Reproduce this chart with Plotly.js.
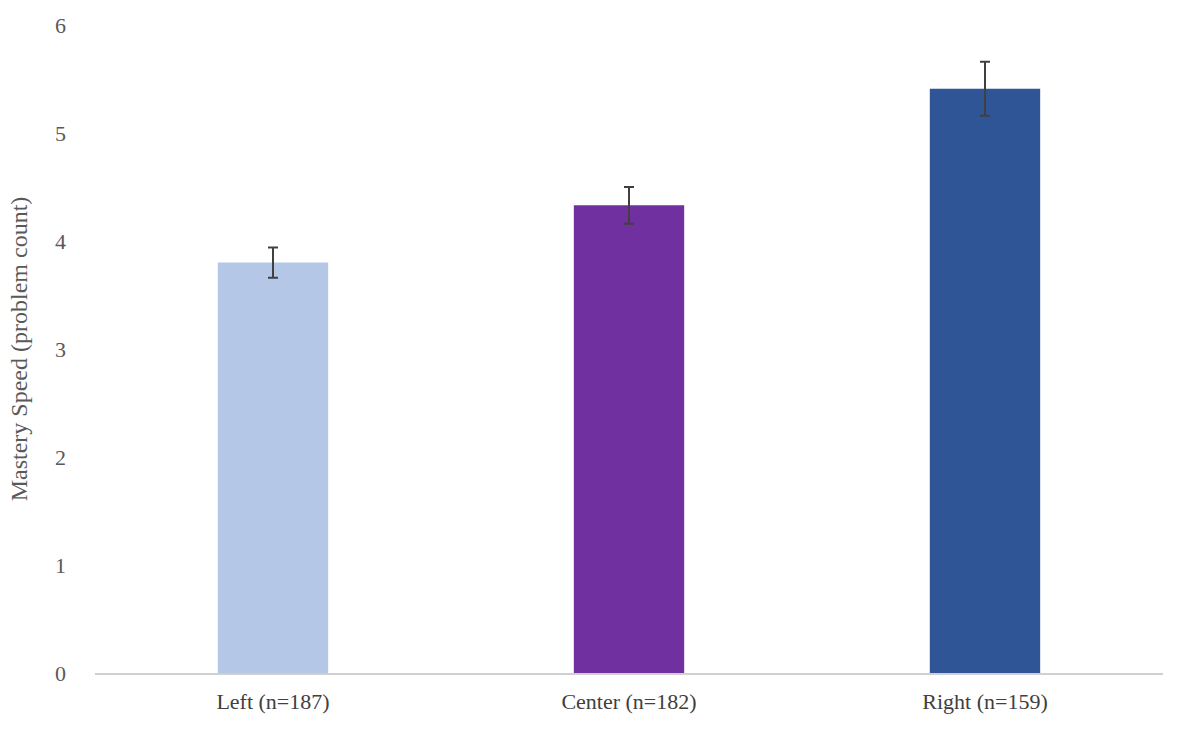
<!DOCTYPE html>
<html>
<head>
<meta charset="utf-8">
<script src="https://cdn.plot.ly/plotly-3.0.1.min.js"></script>
<style>html,body{margin:0;padding:0;background:#fff;}</style>
</head>
<body>
<div id="chart" style="width:1181px;height:737px;"></div>
<script>
const categories = ["Left (n=187)", "Center (n=182)", "Right (n=159)"];
const means = [3.80, 4.33, 5.41];
const errors = [0.14, 0.17, 0.25];
const colors = ["#b4c7e7", "#7030a0", "#2f5597"];

let trace = {
    x: categories,
    y: means,
    type: 'bar',
    width: 0.31,
    marker: {color: colors},
    error_y: {type: 'data', array: errors, visible: true, color: '#404040', thickness: 2, width: 5},
    hoverinfo: 'none'
};

let layout = {
    width: 1181,
    height: 737,
    margin: {l: 95, r: 18, t: 25, b: 64},
    paper_bgcolor: '#fff',
    plot_bgcolor: '#fff',
    font: {family: '"Liberation Serif", "Times New Roman", serif', color: '#595959', size: 22},
    showlegend: false,
    bargap: 0.69,
    xaxis: {
        showline: true, linecolor: '#d0d0d0', linewidth: 1.5,
        ticks: '', tickfont: {size: 22, color: '#404040'}, ticklabelstandoff: 8
    },
    yaxis: {
        range: [0, 6], dtick: 1, showgrid: false, zeroline: false, showline: false,
        ticks: '', tickfont: {size: 22, color: '#595959'}, ticklabelstandoff: 28,
        title: {text: 'Mastery Speed (problem count)', font: {size: 24, color: '#595959'}, standoff: 20}
    }
};

Plotly.newPlot('chart', [trace], layout, {displayModeBar: false, staticPlot: true});
</script>
</body>
</html>
